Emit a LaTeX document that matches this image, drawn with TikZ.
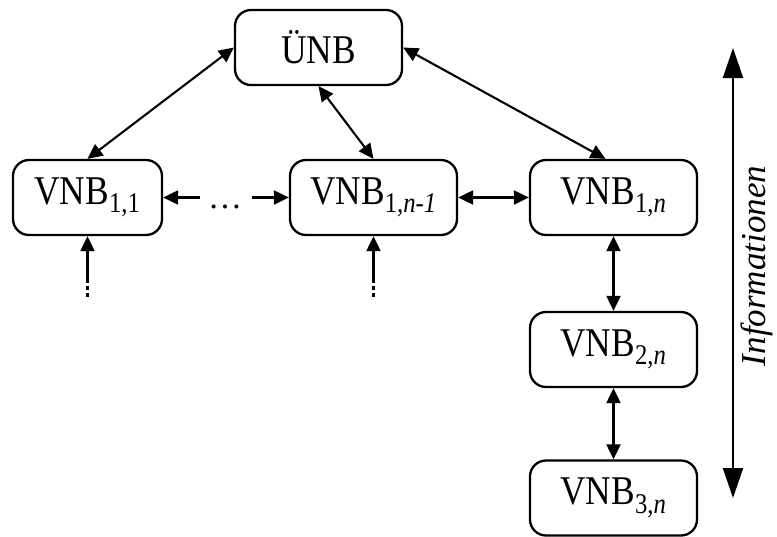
\documentclass[tikz,border=0pt]{standalone}
\usepackage{fontspec}
\setmainfont{Liberation Serif}
\usetikzlibrary{arrows.meta}
\newcommand{\tallt}[1]{\scalebox{1.04}[1.2]{#1}}
\begin{document}
\begin{tikzpicture}[x=1pt,y=-1pt,
  box/.style={draw, line width=2.3pt, rounded corners=16pt, minimum width=167pt,
    minimum height=75pt, inner sep=0pt, font=\fontsize{34}{40}\selectfont},
  conn/.style={line width=2.1pt, {Triangle[length=15pt,width=14pt]}-{Triangle[length=15pt,width=14pt]}},
  oneway/.style={line width=2.1pt, -{Triangle[length=15pt,width=14pt]}},
  dotline/.style={line width=2.1pt, dash pattern=on 4pt off 3pt},
  bigarrow/.style={line width=2.1pt, {Triangle[length=30pt,width=20pt]}-{Triangle[length=30pt,width=20pt]}}
]
\useasboundingbox (0,0) rectangle (777,536);
\node[box] (unb) at (318.5,47.5) {\tallt{ÜNB}};
\node[box, minimum width=149pt] (v11) at (87.5,197.5) {\tallt{VNB\textsubscript{1,1}}};
\node[box] (v1m) at (373.5,197.5) {\tallt{VNB\textsubscript{1,\textit{n-1}}}};
\node[box] (v1n) at (613.5,197.5) {\tallt{VNB\textsubscript{1,\textit{n}}}};
\node[box] (v2n) at (613.5,349.5) {\tallt{VNB\textsubscript{2,\textit{n}}}};
\node[box] (v3n) at (613.5,498) {\tallt{VNB\textsubscript{3,\textit{n}}}};

\draw[conn] (unb.west) -- (v11.north);
\draw[conn] (unb.south) -- (v1m.north);
\draw[conn] (unb.east) -- ([xshift=-8pt]v1n.north);
\draw[conn] (v1m.east) -- (v1n.west);
\draw[conn] (v1n.south) -- (v2n.north);
\draw[conn] (v2n.south) -- (v3n.north);

\coordinate (dl) at (200,197.5);
\coordinate (dr) at (252,197.5);
\node[anchor=base, inner sep=0pt, font=\fontsize{34}{40}\selectfont] (dots) at (225,208) {\ldots};
\draw[oneway] (dl) -- (v11.east);
\draw[oneway] (dr) -- (v1m.west);

\coordinate (a1) at (87.5,279);
\coordinate (a1e) at (87.5,299);
\draw[oneway] (a1) -- (v11.south);
\draw[dotline] (a1) -- (a1e);
\coordinate (a2) at (373.5,279);
\coordinate (a2e) at (373.5,299);
\draw[oneway] (a2) -- (v1m.south);
\draw[dotline] (a2) -- (a2e);

\coordinate (it) at (733,48);
\coordinate (ib) at (733,498);
\draw[bigarrow] (ib) -- (it);
\node[rotate=90, inner sep=0pt, font=\fontsize{35}{40}\selectfont\itshape] (info) at (757,266) {Informationen};
\end{tikzpicture}
\end{document}
